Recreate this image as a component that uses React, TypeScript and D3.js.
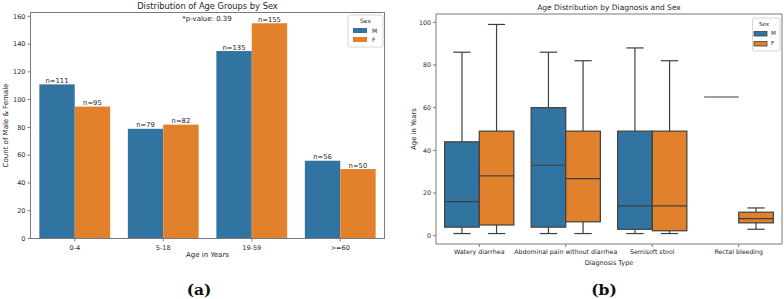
import React from "react";
import * as d3 from "d3";

const ageGroups = ["0-4", "5-18", "19-59", ">=60"];
const maleCounts = [111, 79, 135, 56];
const femaleCounts = [95, 82, 155, 50];
const countTicks = [0, 20, 40, 60, 80, 100, 120, 140, 160];

const diagnoses = ["Watery diarrhea", "Abdominal pain without diarrhea", "Semisoft stool", "Rectal bleeding"];
// [min, q1, median, q3, max]
const maleAgeStats = [
  [1, 4, 16, 44, 86],
  [1, 4, 33, 60, 86],
  [1, 3, 14, 49, 88],
  [65, 65, 65, 65, 65],
];
const femaleAgeStats = [
  [1, 5, 28, 49, 99],
  [1, 6.5, 26.7, 49, 82],
  [1, 2.3, 14, 49, 82],
  [3, 6, 8, 11, 13],
];
const ageTicks = [0, 20, 40, 60, 80, 100];
const sexes = ["M", "F"];

const COL_M = "#3274a1";
const COL_F = "#e1812c";
const TXT = "#262626";
const SPINE = "#7a7a7a";
const LINE = "#3f3f3f";
const FONT = "'DejaVu Sans', sans-serif";

function BarPanel() {
  const L = 30.5, R = 384.5, T = 12.5, B = 238.5;
  const x = d3.scaleBand().domain(ageGroups).range([L, R]).paddingInner(0.2).paddingOuter(0.1);
  const y = d3.scaleLinear().domain([0, 162.75]).range([B, T]);
  const xs = d3.scaleBand().domain(sexes).range([0, x.bandwidth()]);
  const series = [maleCounts, femaleCounts];
  return (
    <g fontFamily={FONT}>
      {ageGroups.map((g, i) =>
        series.map((s, k) => (
          <g key={g + k}>
            <rect
              x={x(g)! + xs(sexes[k])!}
              y={y(s[i])}
              width={xs.bandwidth()}
              height={y(0) - y(s[i])}
              fill={k === 0 ? COL_M : COL_F}
            />
            <text
              x={x(g)! + xs(sexes[k])! + xs.bandwidth() / 2}
              y={y(s[i]) - 1.5}
              textAnchor="middle"
              fontSize={6.8}
              fill={TXT}
            >
              {"n=" + s[i]}
            </text>
          </g>
        ))
      )}
      <rect x={L} y={T} width={R - L} height={B - T} fill="none" stroke={SPINE} strokeWidth={1} />
      {countTicks.map((t) => (
        <g key={t}>
          <line x1={L - 3} x2={L} y1={y(t)} y2={y(t)} stroke={SPINE} />
          <text x={L - 5} y={y(t)} dy="0.35em" textAnchor="end" fontSize={6.5} fill={TXT}>
            {t}
          </text>
        </g>
      ))}
      {ageGroups.map((g) => (
        <g key={g}>
          <line x1={x(g)! + x.bandwidth() / 2} x2={x(g)! + x.bandwidth() / 2} y1={B} y2={B + 3} stroke={SPINE} />
          <text x={x(g)! + x.bandwidth() / 2} y={B + 11} textAnchor="middle" fontSize={6.5} fill={TXT}>
            {g}
          </text>
        </g>
      ))}
      <text x={(L + R) / 2} y={257} textAnchor="middle" fontSize={7} fill={TXT}>
        Age in Years
      </text>
      <text transform={`translate(8,${(T + B) / 2}) rotate(-90)`} textAnchor="middle" fontSize={7} fill={TXT}>
        Count of Male &amp; Female
      </text>
      <text x={(L + R) / 2} y={9} textAnchor="middle" fontSize={8.3} fill={TXT}>
        Distribution of Age Groups by Sex
      </text>
      <text x={207} y={21} textAnchor="middle" fontSize={7} fill={TXT}>
        *p-value: 0.39
      </text>
      <g>
        <rect x={348} y={15} width={35} height={32} rx={2} fill="white" stroke="#d6d6d6" />
        <text x={365.5} y={23} textAnchor="middle" fontSize={6} fill={TXT}>Sex</text>
        <rect x={353} y={28} width={14} height={5} fill={COL_M} />
        <text x={372} y={31.5} dy="0.3em" fontSize={6} fill={TXT}>M</text>
        <rect x={353} y={37} width={14} height={5} fill={COL_F} />
        <text x={372} y={40.5} dy="0.3em" fontSize={6} fill={TXT}>F</text>
      </g>
      <text x={199} y={294.5} textAnchor="middle" fontSize={15.5} fontWeight="bold" fontFamily="'DejaVu Serif', serif" fill="#111">
        (a)
      </text>
    </g>
  );
}

function BoxPanel() {
  const L = 436, R = 782, T = 14, B = 244;
  const x = d3.scaleBand().domain(diagnoses).range([L, R]).paddingInner(0.2).paddingOuter(0.1);
  const y = d3.scaleLinear().domain([-3.9, 103.9]).range([B, T]);
  const xs = d3.scaleBand().domain(sexes).range([0, x.bandwidth()]);
  const series = [maleAgeStats, femaleAgeStats];
  return (
    <g fontFamily={FONT}>
      {diagnoses.map((d, i) =>
        series.map((s, k) => {
          const [mn, q1, md, q3, mx] = s[i];
          const x0 = x(d)! + xs(sexes[k])!;
          const w = xs.bandwidth();
          const cx = x0 + w / 2;
          const cw = w / 4;
          if (q1 === q3) {
            return <line key={d + k} x1={x0} x2={x0 + w} y1={y(md)} y2={y(md)} stroke={LINE} strokeWidth={1.2} />;
          }
          return (
            <g key={d + k} stroke={LINE} strokeWidth={1.2}>
              <line x1={cx} x2={cx} y1={y(q3)} y2={y(mx)} />
              <line x1={cx} x2={cx} y1={y(q1)} y2={y(mn)} />
              <line x1={cx - cw} x2={cx + cw} y1={y(mx)} y2={y(mx)} />
              <line x1={cx - cw} x2={cx + cw} y1={y(mn)} y2={y(mn)} />
              <rect x={x0} y={y(q3)} width={w} height={y(q1) - y(q3)} fill={k === 0 ? COL_M : COL_F} />
              <line x1={x0} x2={x0 + w} y1={y(md)} y2={y(md)} />
            </g>
          );
        })
      )}
      <rect x={L} y={T} width={R - L} height={B - T} fill="none" stroke={SPINE} strokeWidth={1} />
      {ageTicks.map((t) => (
        <g key={t}>
          <line x1={L - 3} x2={L} y1={y(t)} y2={y(t)} stroke={SPINE} />
          <text x={L - 5} y={y(t)} dy="0.35em" textAnchor="end" fontSize={6.3} fill={TXT}>
            {t}
          </text>
        </g>
      ))}
      {diagnoses.map((g) => (
        <g key={g}>
          <line x1={x(g)! + x.bandwidth() / 2} x2={x(g)! + x.bandwidth() / 2} y1={B} y2={B + 3} stroke={SPINE} />
          <text x={x(g)! + x.bandwidth() / 2} y={B + 10} textAnchor="middle" fontSize={6.3} fill={TXT}>
            {g}
          </text>
        </g>
      ))}
      <text x={(L + R) / 2} y={264.5} textAnchor="middle" fontSize={6.5} fill={TXT}>
        Diagnosis Type
      </text>
      <text transform={`translate(416,${(T + B) / 2}) rotate(-90)`} textAnchor="middle" fontSize={6.8} fill={TXT}>
        Age in Years
      </text>
      <text x={(L + R) / 2} y={10} textAnchor="middle" fontSize={7.5} fill={TXT}>
        Age Distribution by Diagnosis and Sex
      </text>
      <g>
        <rect x={752.5} y={18} width={27.5} height={33} rx={2} fill="white" stroke="#d6d6d6" />
        <text x={764} y={26} textAnchor="middle" fontSize={5.6} fill={TXT}>Sex</text>
        <rect x={754} y={31.5} width={13} height={4.5} fill={COL_M} stroke={LINE} strokeWidth={0.8} />
        <text x={771} y={33.8} dy="0.3em" fontSize={5.6} fill={TXT}>M</text>
        <rect x={754} y={41.5} width={13} height={4.5} fill={COL_F} stroke={LINE} strokeWidth={0.8} />
        <text x={771} y={43.8} dy="0.3em" fontSize={5.6} fill={TXT}>F</text>
      </g>
      <text x={604} y={294.5} textAnchor="middle" fontSize={15.5} fontWeight="bold" fontFamily="'DejaVu Serif', serif" fill="#111">
        (b)
      </text>
    </g>
  );
}

export default function App() {
  return (
    <svg
      width={784}
      height={299}
      viewBox="0 0 784 299"
      style={{ position: "absolute", left: 0, top: 0, background: "white" }}
    >
      <rect width={784} height={299} fill="white" />
      <BarPanel />
      <BoxPanel />
    </svg>
  );
}
